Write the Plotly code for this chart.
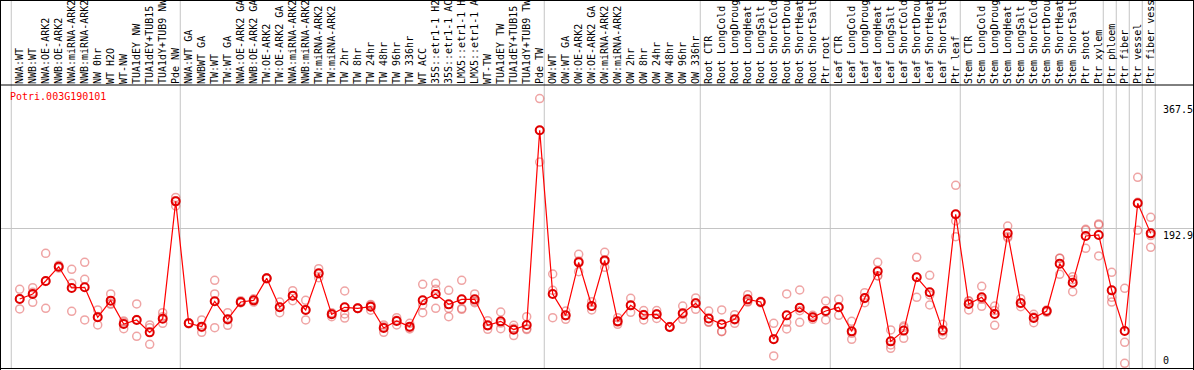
import plotly.graph_objects as go

title_text = "Potri.003G190101"

categories = [
    "NWA:WT", "NWB:WT", "NWA:OE-ARK2", "NWB:OE-ARK2", "NWA:miRNA-ARK2", "NWB:miRNA-ARK2",
    "NW 0hr", "WT H2O", "WT-NW", "TUA1dEY NW", "TUA1dEY+TUB15 NW", "TUA1dY+TUB9 NW", "Pde NW",
    "NWA:WT GA", "NWBWT GA", "TW:WT", "TW:WT GA", "NWA:OE-ARK2 GA", "NWB:OE-ARK2 GA",
    "TW:OE-ARK2", "TW:OE-ARK2 GA", "NWA:miRNA-ARK2 GA", "NWB:miRNA-ARK2 GA", "TW:miRNA-ARK2",
    "TW:miRNA-ARK2 GA", "TW 2hr", "TW 8hr", "TW 24hr", "TW 48hr", "TW 96hr", "TW 336hr",
    "WT ACC", "35S::etr1-1 H2O", "35S::etr1-1 ACC", "LMX5::etr1-1 H2O", "LMX5::etr1-1 ACC",
    "WT-TW", "TUA1dEY TW", "TUA1dEY+TUB15 TW", "TUA1dY+TUB9 TW", "Pde TW",
    "OW:WT", "OW:WT GA", "OW:OE-ARK2", "OW:OE-ARK2 GA", "OW:miRNA-ARK2", "OW:miRNA-ARK2 GA",
    "OW 2hr", "OW 8hr", "OW 24hr", "OW 48hr", "OW 96hr", "OW 336hr",
    "Root CTR", "Root LongCold", "Root LongDrought", "Root LongHeat", "Root LongSalt",
    "Root ShortCold", "Root ShortDrought", "Root ShortHeat", "Root ShortSalt", "Ptr root",
    "Leaf CTR", "Leaf LongCold", "Leaf LongDrought", "Leaf LongHeat", "Leaf LongSalt",
    "Leaf ShortCold", "Leaf ShortDrought", "Leaf ShortHeat", "Leaf ShortSalt", "Ptr leaf",
    "Stem CTR", "Stem LongCold", "Stem LongDrought", "Stem LongHeat", "Stem LongSalt",
    "Stem ShortCold", "Stem ShortDrought", "Stem ShortHeat", "Stem ShortSalt",
    "Ptr shoot", "Ptr xylem", "Ptr phloem", "Ptr fiber", "Ptr vessel", "Ptr fiber vessel",
]

mean_values = [
    95.3, 102.2, 120.1, 139.9, 110.5, 111.4, 70.0, 93.0, 60.8, 66.3, 49.2, 68.1, 230.1,
    61.7, 57.1, 92.1, 67.2, 91.1, 93.4, 123.8, 83.8, 99.9, 80.1, 130.7, 74.1, 83.8, 82.4,
    84.7, 55.2, 64.9, 57.1, 93.4, 102.2, 87.9, 94.8, 94.8, 58.9, 64.4, 52.9, 59.4, 328.2,
    102.2, 72.7, 145.9, 85.6, 148.6, 64.4, 86.5, 73.2, 74.1, 56.6, 75.5, 89.3,
    68.5, 60.3, 67.2, 94.8, 91.1, 39.6, 72.7, 83.3, 70.0, 78.7,
    83.8, 50.6, 96.7, 133.5, 36.8, 51.6, 125.2, 104.5, 52.0, 212.2,
    88.4, 97.6, 74.6, 185.9, 89.8, 69.0, 78.7, 144.1, 117.8, 182.3, 183.7,
    107.2, 51.1, 227.4, 185.9,
]

rep1 = [
    108.6, 110.9, 158.3, 142.0, 136.2, 145.9, 80.1, 102.2, 63.0, 88.4, 59.4, 76.4, 235.6,
    62.5, 66.3, 121.1, 76.4, 93.0, 95.5, 124.5, 91.1, 106.8, 93.4, 137.2, 76.4, 106.3, 83.0,
    86.5, 59.4, 69.5, 61.7, 115.5, 116.9, 107.2, 121.1, 102.2, 65.4, 77.3, 58.9, 70.9, 372.0,
    129.8, 78.7, 156.9, 91.6, 159.7, 69.5, 96.2, 79.3, 79.3, 57.2, 85.6, 96.7,
    78.7, 80.1, 73.6, 101.3, 92.0, 61.7, 102.2, 107.7, 72.7, 92.5,
    94.8, 64.4, 104.0, 145.9, 52.5, 58.0, 152.8, 128.0, 60.3, 252.2,
    93.0, 112.8, 85.6, 196.1, 95.7, 74.1, 80.1, 151.4, 126.1, 191.5, 197.5,
    132.1, 110.0, 263.3, 208.1,
]

rep2 = [
    81.5, 90.7, 82.4, 138.0, 116.9, 122.4, 71.0, 87.9, 54.3, 43.7, 32.7, 70.9, 223.7,
    61.0, 49.2, 102.2, 58.9, 90.2, 91.1, 123.2, 76.4, 93.0, 66.3, 124.7, 70.9, 74.6, 82.0,
    79.8, 49.2, 59.4, 55.7, 87.0, 108.6, 82.4, 82.2, 90.2, 53.4, 54.3, 44.7, 54.3, 284.4,
    69.5, 67.2, 133.0, 80.1, 139.0, 60.3, 76.9, 66.3, 68.5, 56.0, 67.2, 81.0,
    63.0, 50.2, 61.7, 91.1, 90.0, 16.6, 63.0, 63.0, 67.2, 66.3,
    72.7, 39.6, 90.2, 127.5, 31.8, 41.0, 97.6, 87.0, 45.6, 203.0,
    80.1, 85.2, 58.9, 180.0, 84.7, 62.6, 76.9, 129.3, 105.4, 165.3, 154.7,
    97.6, 35.4, 190.1, 166.7,
]

rep3 = [
    95.5, 104.5, 119.6, 140.0, 78.2, 66.3, 59.4, 89.0, 65.0, 66.8, 55.5, 61.7, 231.0,
    61.7, 56.0, 55.7, 66.3, 90.2, 93.6, 123.8, 84.0, 99.9, 80.6, 130.2, 75.0, 69.0, 82.2,
    87.8, 57.0, 65.8, 54.0, 76.4, 82.4, 70.9, 81.0, 92.0, 58.0, 62.0, 55.0, 53.0, 327.8,
    107.3, 72.2, 147.8, 85.1, 147.1, 63.4, 86.4, 74.0, 74.5, 56.6, 73.7, 90.2,
    63.8, 50.6, 66.3, 92.0, 91.3, 40.5, 53.9, 79.2, 70.1, 77.3,
    83.9, 47.8, 95.9, 127.1, 27.2, 55.8, 125.2, 100.8, 50.1, 181.3,
    92.1, 94.8, 79.3, 181.6, 89.0, 70.3, 79.1, 151.6, 121.9, 190.1, 198.9,
    91.1, 6.4, 228.8, 182.9,
]

# group boundaries (index of first column of each group) and y tick labels
group_starts = [0, 13, 41, 53, 63, 73, 84, 85, 86, 87, 88]
y_ticks = [0, 192.9, 367.5]
y_tick_labels = ["0", "192.9", "367.5"]

W, H = 1194, 370
TOP, BOTTOM = 85, 1
x_range = [-19.7 / 13, (W - 19.7) / 13]
y_range = [-1.4, 390.8]
plot_h = H - TOP - BOTTOM

n = len(categories)
xs = list(range(n))

fig = go.Figure()

rx, ry = [], []
for rep in (rep1, rep2, rep3):
    rx.extend(xs)
    ry.extend(rep)
fig.add_trace(go.Scatter(
    x=rx, y=ry, mode="markers", hoverinfo="skip",
    marker=dict(symbol="circle-open", size=8, color="rgba(225,90,90,0.55)",
                line=dict(width=1.5, color="rgba(225,90,90,0.55)")),
    showlegend=False,
))
fig.add_trace(go.Scatter(
    x=xs, y=mean_values, mode="lines+markers",
    line=dict(color="#ff0000", width=1.2),
    marker=dict(symbol="circle-open", size=8, color="#e00000",
                line=dict(width=2, color="#e00000")),
    showlegend=False,
))

shapes = []
for k in group_starts:
    shapes.append(dict(type="line", xref="x", yref="paper", x0=k - 0.65, x1=k - 0.65,
                       y0=0, y1=(H - BOTTOM) / plot_h, layer="below",
                       line=dict(color="#c4c4c4", width=1)))


def py(px):
    return (H - BOTTOM - px) / plot_h


for ypx in (0.5, TOP):
    shapes.append(dict(type="line", xref="paper", yref="paper", x0=0, x1=1,
                       y0=py(ypx), y1=py(ypx), line=dict(color="black", width=1)))
shapes.append(dict(type="line", xref="paper", yref="paper", x0=0, x1=1,
                   y0=py(368.5), y1=py(368.5), line=dict(color="black", width=1)))
shapes.append(dict(type="line", xref="paper", yref="paper", x0=0.5 / W, x1=0.5 / W,
                   y0=py(H), y1=py(0), line=dict(color="black", width=1)))
shapes.append(dict(type="line", xref="paper", yref="paper", x0=(W - 0.5) / W, x1=(W - 0.5) / W,
                   y0=py(H), y1=py(0), line=dict(color="black", width=1)))

annotations = [dict(
    text=title_text, xref="paper", yref="paper", x=8 / W, y=1, xanchor="left", yanchor="top",
    yshift=-4, showarrow=False, font=dict(family="DejaVu Sans Mono", size=10, color="red"),
)]
for v, lab in zip(y_ticks, y_tick_labels):
    annotations.append(dict(
        text=lab, xref="paper", yref="y", x=1161 / W, y=v, xanchor="left",
        yanchor="bottom" if v == 0 else "top", showarrow=False,
        font=dict(family="DejaVu Sans Mono", size=10, color="black"),
    ))

fig.update_layout(
    width=W, height=H,
    margin=dict(l=0, r=0, t=TOP, b=BOTTOM, pad=0),
    paper_bgcolor="white", plot_bgcolor="white",
    showlegend=False,
    shapes=shapes,
    annotations=annotations,
    xaxis=dict(
        range=x_range, side="top", tickmode="array", tickvals=xs, ticktext=categories,
        tickangle=-90, tickfont=dict(family="DejaVu Sans Mono", size=10, color="black"),
        showgrid=False, zeroline=False, showline=False, ticks="", automargin=False,
    ),
    yaxis=dict(
        range=y_range, tickmode="array", tickvals=[y_ticks[1]], showticklabels=False,
        showgrid=True, gridcolor="#c4c4c4", gridwidth=1, zeroline=False, showline=False,
        ticks="", automargin=False,
    ),
)

fig.write_html(
    "out.html",
    config={"displayModeBar": False},
    post_script="document.body.style.margin='0';document.body.style.overflow='hidden';",
)
